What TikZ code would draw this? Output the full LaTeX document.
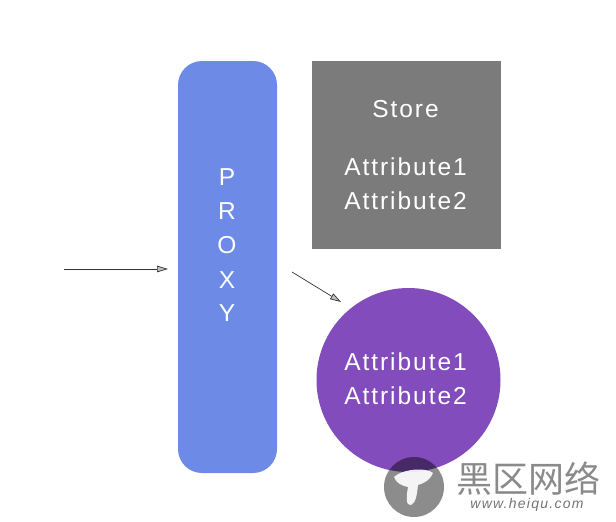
\documentclass[tikz,border=0pt]{standalone}
\usepackage{fontspec}
\setmainfont{Liberation Sans}
\newfontfamily\cjkfont{Noto Sans CJK SC}
\usetikzlibrary{arrows.meta}
\definecolor{proxyblue}{HTML}{6C8AE6}
\definecolor{storegray}{HTML}{7B7B7B}
\definecolor{circlepurple}{HTML}{824CBC}
\definecolor{markgray}{HTML}{8A8A8A}
\tikzset{
	label text/.style={text=white, font=\fontsize{24.5}{24.5}\selectfont\addfontfeature{LetterSpace=8}, inner sep=0pt},
	link/.style={draw=black!80, line width=0.7pt, -{Triangle[open, length=11pt, width=6.5pt, fill=black!25]}},
}
\begin{document}
\begin{tikzpicture}[x=1pt, y=-1pt, line join = round]
	\useasboundingbox (0,0) rectangle (616,522);
	\coordinate (in) at (64,269);
	\coordinate (inend) at (168,269);
	\coordinate (out) at (292,272);
	\coordinate (outend) at (341,302);
	\fill[proxyblue, rounded corners=24pt] (178,61) rectangle (277,473); % proxy
	\fill[storegray] (312,61) rectangle (501,249); % store
	\fill[circlepurple] (408.5,380) circle (92); % target
	\foreach \ch/\y in {P/177, R/211, O/245, X/280, Y/313}
		\node[label text] (proxy\ch) at (227,\y) {\ch};
	\node[label text] (store) at (405.5,109) {Store};
	\node[label text] (storeA) at (405.5,167) {Attribute1};
	\node[label text] (storeB) at (405.5,201) {Attribute2};
	\node[label text] (targetA) at (405.5,362) {Attribute1};
	\node[label text] (targetB) at (405.5,396) {Attribute2};
	\draw[link] (in) -- (inend);
	\draw[link] (out) -- (outend);
	% watermark
	\fill[black, opacity=0.45] (414,487) circle (30);
	\fill[white, opacity=0.9] (394,477) .. controls (402,469) and (426,467) .. (433,473) .. controls (429,482) and (421,484) .. (418,485) .. controls (417,494) and (416,503) .. (411,505) .. controls (406,506) and (406,498) .. (408,487) .. controls (402,486) and (396,483) .. (394,477) -- cycle;
	\node[text=markgray, font=\cjkfont\fontsize{36}{36}\selectfont, inner sep=0pt] (markname) at (528,479) {黑区网络};
	\node[text=black!55, font=\itshape\fontsize{14}{14}\selectfont\addfontfeature{LetterSpace=9}, inner sep=0pt] (markurl) at (527,505) {www.heiqu.com};
\end{tikzpicture}
\end{document}
